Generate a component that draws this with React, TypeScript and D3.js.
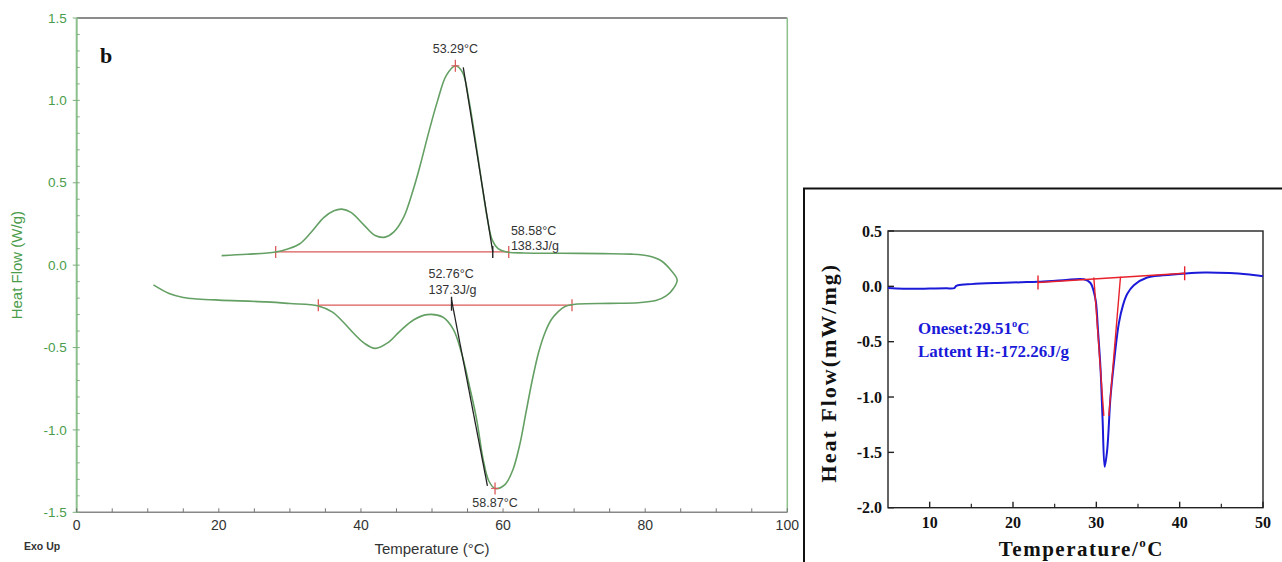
import React from "react";
import * as d3 from "d3";

// ---------- Left chart (DSC heating / cooling loop) ----------
const leftXTicks = [0, 20, 40, 60, 80, 100];
const leftYTicks = [-1.5, -1.0, -0.5, 0.0, 0.5, 1.0, 1.5];

// heating run (upper), then cooling run (lower) as one continuous loop
const heatingCurve: [number, number][] = [
  [20.4, 0.058], [24, 0.066], [28, 0.08], [29.8, 0.1], [31.4, 0.13], [33, 0.2],
  [34.8, 0.29], [36.2, 0.33], [37.3, 0.34], [38.6, 0.32], [40.5, 0.24], [42, 0.18],
  [43.4, 0.17], [44.6, 0.2], [46, 0.29], [47.3, 0.45], [48.3, 0.6], [49.5, 0.8],
  [50.8, 1.0], [52, 1.15], [53.29, 1.21], [54.3, 1.17], [55.2, 1.0], [56.1, 0.76],
  [57.0, 0.5], [57.8, 0.28], [58.5, 0.15], [59.3, 0.1], [60.5, 0.08], [63, 0.074],
  [68, 0.072], [74, 0.07], [78, 0.067], [80.5, 0.055], [82.3, 0.025], [83.6, -0.03], [84.5, -0.09],
];
const coolingCurve: [number, number][] = [
  [84.0, -0.14], [83, -0.185], [81.5, -0.215], [79, -0.228], [75, -0.232], [70.5, -0.236],
  [68.8, -0.25], [67.8, -0.28], [66.8, -0.33], [65.9, -0.41], [65.0, -0.53], [64.1, -0.7],
  [63.2, -0.9], [62.4, -1.08], [61.4, -1.24], [60.3, -1.33], [58.87, -1.355], [58.0, -1.31],
  [57.2, -1.18], [56.3, -0.94], [55.3, -0.74], [54.2, -0.54], [53.0, -0.39], [51.5, -0.315],
  [49.3, -0.3], [47.5, -0.33], [45.5, -0.4], [43.8, -0.47], [42.0, -0.505], [40.5, -0.475],
  [39, -0.415], [37.5, -0.345], [36, -0.285], [34, -0.248], [30, -0.233], [26.7, -0.223],
  [20, -0.212], [17, -0.205], [15, -0.196], [13, -0.172], [10.8, -0.12],
];

// peak analysis (temperature, heat flow)
const heatPeak: [number, number] = [53.29, 1.21];
const heatBaseline: [number, number][] = [[28, 0.08], [60.8, 0.08]];
const heatTangent: [number, number][] = [[54.4, 1.2], [58.55, 0.08]];
const coolPeak: [number, number] = [58.87, -1.355];
const coolBaseline: [number, number][] = [[34, -0.243], [69.7, -0.243]];
const coolTangent: [number, number][] = [[52.75, -0.21], [57.8, -1.34]];
const heatLabels = ["53.29°C", "58.58°C", "138.3J/g"];
const coolLabels = ["52.76°C", "137.3J/g", "58.87°C"];

// ---------- Right chart ----------
const rightXTicks = [10, 20, 30, 40, 50];
const rightXMinor = [15, 25, 35, 45];
const rightYTicks = [0.5, 0.0, -0.5, -1.0, -1.5, -2.0];
const dscCurve: [number, number][] = [
  [5, -0.015], [6, -0.02], [8, -0.022], [10, -0.02], [12, -0.018], [12.95, -0.016],
  [13.15, 0.002], [13.4, 0.01], [15, 0.02], [18, 0.03], [21, 0.037], [23, 0.042],
  [26, 0.055], [28.5, 0.064], [29.3, 0.03], [29.7, -0.05], [29.95, -0.14], [30.2, -0.4],
  [30.5, -0.74], [30.75, -1.2], [31.0, -1.63], [31.3, -1.48], [31.7, -1.0], [32.1, -0.7],
  [32.7, -0.335], [33.2, -0.17], [33.7, -0.07], [34.5, 0.01], [36.1, 0.08], [38, 0.1],
  [40.7, 0.117], [43, 0.125], [46, 0.12], [48, 0.11], [50, 0.092],
];
const rightBaseline: [number, number][] = [[23.0, 0.035], [40.6, 0.118]];
const rightTangentL: [number, number][] = [[29.7, 0.08], [30.9, -1.17]];
const rightTangentR: [number, number][] = [[32.9, 0.087], [31.5, -1.17]];
const rightLabels = ["Oneset:29.51", "Lattent H:-172.26J/g"];

export default function App() {
  const xL = d3.scaleLinear().domain([0, 100]).range([76.7, 787.3]);
  const yL = d3.scaleLinear().domain([-1.5, 1.5]).range([512.3, 18]);
  const xR = d3.scaleLinear().domain([5, 50]).range([888, 1263]);
  const yR = d3.scaleLinear().domain([-2, 0.5]).range([507.7, 231]);

  const lineL = d3.line<[number, number]>().x(d => xL(d[0])).y(d => yL(d[1])).curve(d3.curveCatmullRom.alpha(0.5));
  const segL = d3.line<[number, number]>().x(d => xL(d[0])).y(d => yL(d[1]));
  const lineR = d3.line<[number, number]>().x(d => xR(d[0])).y(d => yR(d[1])).curve(d3.curveCatmullRom.alpha(0.5));
  const segR = d3.line<[number, number]>().x(d => xR(d[0])).y(d => yR(d[1]));

  const loop = [...heatingCurve, ...coolingCurve];
  const green = "#64a064";
  const greenText = "#4a9c4a";
  const redL = "#dc5a5a";
  const sans = "Arial, 'Liberation Sans', sans-serif";
  const serif = "'Times New Roman', 'Liberation Serif', serif";

  const minorYL = d3.range(-15, 16).map(i => i / 10);
  const minorXL = d3.range(0, 101, 5);

  return (
    <svg width={1282} height={562} style={{ position: "absolute", left: 0, top: 0, background: "#fff" }}>
      {/* ===== LEFT CHART ===== */}
      <g>
        {/* frame */}
        <line x1={xL(0)} x2={xL(100)} y1={yL(1.5)} y2={yL(1.5)} stroke="#666" strokeWidth={1.5} />
        <line x1={xL(100)} x2={xL(100)} y1={yL(1.5)} y2={yL(-1.5)} stroke="#8cc08c" strokeWidth={1.5} />
        <line x1={xL(0)} x2={xL(100)} y1={yL(-1.5)} y2={yL(-1.5)} stroke="#888" strokeWidth={1.5} />
        <line x1={xL(0)} x2={xL(0)} y1={yL(1.5)} y2={yL(-1.5)} stroke="#8cc08c" strokeWidth={2} />
        {/* y ticks */}
        {minorYL.map(v => (
          <line key={"ym" + v} x1={xL(0) - (Math.abs(v * 2 - Math.round(v * 2)) < 1e-6 ? 4 : 0)} x2={xL(0) + 3}
            y1={yL(v)} y2={yL(v)} stroke="#7fae7f" strokeWidth={1} />
        ))}
        {leftYTicks.map(v => (
          <text key={"yl" + v} x={xL(0) - 10} y={yL(v)} dy="0.35em" textAnchor="end" fontFamily={sans} fontSize={13.5} fill={greenText}>
            {v.toFixed(1)}
          </text>
        ))}
        {/* x ticks */}
        {minorXL.map(v => (
          <line key={"xm" + v} x1={xL(v)} x2={xL(v)} y1={yL(-1.5)} y2={yL(-1.5) - 4} stroke="#777" strokeWidth={1} />
        ))}
        {leftXTicks.map(v => (
          <text key={"xl" + v} x={xL(v)} y={yL(-1.5) + 18} textAnchor="middle" fontFamily={sans} fontSize={14} fill="#333">
            {v}
          </text>
        ))}
        <text x={xL(50)} y={554} textAnchor="middle" fontFamily={sans} fontSize={15} fill="#333">Temperature (°C)</text>
        <text x={24} y={550} fontFamily={sans} fontSize={10.5} fontWeight="bold" fill="#333">Exo Up</text>
        <text transform={`translate(22,${yL(0)}) rotate(-90)`} textAnchor="middle" fontFamily={sans} fontSize={15} fill={greenText}>
          Heat Flow (W/g)
        </text>
        <text x={100} y={63} fontFamily={serif} fontSize={22} fontWeight="bold" fill="#111">b</text>

        {/* baselines */}
        <path d={segL(heatBaseline) || ""} stroke={redL} strokeWidth={1.3} fill="none" />
        <path d={segL(coolBaseline) || ""} stroke={redL} strokeWidth={1.3} fill="none" />
        {[...heatBaseline, ...coolBaseline].map((p, i) => (
          <line key={"rt" + i} x1={xL(p[0])} x2={xL(p[0])} y1={yL(p[1]) - 6} y2={yL(p[1]) + 6} stroke={redL} strokeWidth={1.3} />
        ))}

        {/* curve */}
        <path d={lineL(loop) || ""} stroke={green} strokeWidth={1.6} fill="none" />

        {/* tangents */}
        <path d={segL(heatTangent) || ""} stroke="#222" strokeWidth={1.3} fill="none" />
        <path d={segL(coolTangent) || ""} stroke="#222" strokeWidth={1.3} fill="none" />
        <line x1={xL(heatTangent[1][0])} x2={xL(heatTangent[1][0])} y1={yL(heatTangent[1][1]) - 6} y2={yL(heatTangent[1][1]) + 6} stroke="#222" strokeWidth={1.4} />
        <line x1={xL(coolTangent[0][0])} x2={xL(coolTangent[0][0])} y1={yL(coolTangent[0][1]) - 3} y2={yL(coolTangent[0][1]) + 11} stroke="#222" strokeWidth={1.4} />

        {/* peak markers */}
        <line x1={xL(heatPeak[0])} x2={xL(heatPeak[0])} y1={yL(heatPeak[1]) - 6} y2={yL(heatPeak[1]) + 6} stroke={redL} strokeWidth={1.3} />
        <line x1={xL(heatPeak[0]) - 4} x2={xL(heatPeak[0]) + 4} y1={yL(heatPeak[1])} y2={yL(heatPeak[1])} stroke={redL} strokeWidth={1} />
        <line x1={xL(coolPeak[0])} x2={xL(coolPeak[0])} y1={yL(coolPeak[1]) - 6} y2={yL(coolPeak[1]) + 6} stroke={redL} strokeWidth={1.3} />
        <line x1={xL(coolPeak[0]) - 4} x2={xL(coolPeak[0]) + 4} y1={yL(coolPeak[1])} y2={yL(coolPeak[1])} stroke={redL} strokeWidth={1} />

        {/* annotations */}
        <g fontFamily={sans} fontSize={12.5} fill="#333">
          <text x={xL(heatPeak[0])} y={yL(heatPeak[1]) - 13} textAnchor="middle">{heatLabels[0]}</text>
          <text x={xL(61.1)} y={235} >{heatLabels[1]}</text>
          <text x={xL(61.1)} y={250} >{heatLabels[2]}</text>
          <text x={xL(49.5)} y={278} >{coolLabels[0]}</text>
          <text x={xL(49.5)} y={294} >{coolLabels[1]}</text>
          <text x={xL(coolPeak[0])} y={yL(coolPeak[1]) + 19} textAnchor="middle">{coolLabels[2]}</text>
        </g>
      </g>

      {/* ===== RIGHT CHART ===== */}
      <g>
        <rect x={804} y={188.5} width={500} height={400} fill="none" stroke="#111" strokeWidth={2} />
        <rect x={xR(5)} y={yR(0.5)} width={xR(50) - xR(5)} height={yR(-2) - yR(0.5)} fill="none" stroke="#222" strokeWidth={1.4} />
        {rightYTicks.map(v => (
          <g key={"ry" + v}>
            <line x1={xR(5)} x2={xR(5) + 6} y1={yR(v)} y2={yR(v)} stroke="#222" strokeWidth={1.4} />
            <text x={xR(5) - 6} y={yR(v)} dy="0.35em" textAnchor="end" fontFamily={serif} fontWeight="bold" fontSize={16} fill="#111">
              {v.toFixed(1)}
            </text>
          </g>
        ))}
        {rightXTicks.map(v => (
          <g key={"rx" + v}>
            <line x1={xR(v)} x2={xR(v)} y1={yR(-2)} y2={yR(-2) - 6} stroke="#222" strokeWidth={1.4} />
            <text x={xR(v)} y={yR(-2) + 20} textAnchor="middle" fontFamily={serif} fontWeight="bold" fontSize={16} fill="#111">{v}</text>
          </g>
        ))}
        {rightXMinor.map(v => (
          <line key={"rxm" + v} x1={xR(v)} x2={xR(v)} y1={yR(-2)} y2={yR(-2) - 4} stroke="#222" strokeWidth={1.2} />
        ))}
        <text x={xR(28.2)} y={556} textAnchor="middle" fontFamily={serif} fontWeight="bold" fontSize={21} letterSpacing={1.5} fill="#111">
          Temperature/<tspan fontSize={13} dy={-9}>o</tspan><tspan dy={9}>C</tspan>
        </text>
        <text transform={`translate(836,${yR(-0.78)}) rotate(-90)`} textAnchor="middle" fontFamily={serif} fontWeight="bold" fontSize={22} letterSpacing={2} fill="#111">
          Heat Flow(mW/mg)
        </text>

        <path d={lineR(dscCurve) || ""} stroke="#1a1ad8" strokeWidth={2} fill="none" />
        <g stroke="#e8202a" strokeWidth={1.4} fill="none">
          <path d={segR(rightBaseline) || ""} />
          <path d={segR(rightTangentL) || ""} />
          <path d={segR(rightTangentR) || ""} />
          {rightBaseline.map((p, i) => (
            <line key={"rbt" + i} x1={xR(p[0])} x2={xR(p[0])} y1={yR(p[1]) - 7} y2={yR(p[1]) + 7} />
          ))}
        </g>
        <g fontFamily={serif} fontWeight="bold" fontSize={17} fill="#1a1ad8">
          <text x={918} y={334}>{rightLabels[0]}<tspan fontSize={10.5} dy={-7}>o</tspan><tspan dy={7}>C</tspan></text>
          <text x={918} y={357}>{rightLabels[1]}</text>
        </g>
      </g>
    </svg>
  );
}
